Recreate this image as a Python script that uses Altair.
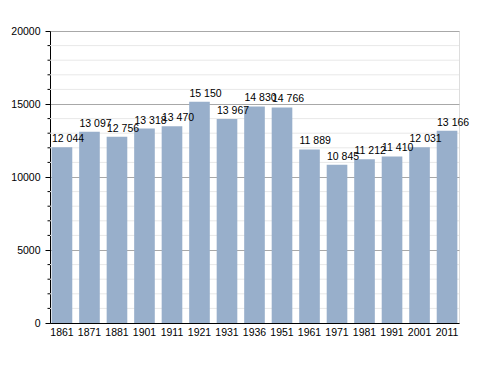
import altair as alt
import pandas as pd

years = ["1861", "1871", "1881", "1901", "1911", "1921", "1931", "1936",
         "1951", "1961", "1971", "1981", "1991", "2001", "2011"]
population = [12044, 13097, 12756, 13318, 13470, 15150, 13967, 14830,
              14766, 11889, 10845, 11212, 11410, 12031, 13166]
major_ticks = [0, 5000, 10000, 15000, 20000]
minor_ticks = [v for v in range(0, 20001, 1000) if v % 5000 != 0]

df = pd.DataFrame({"year": years, "pop": population})
df["label"] = [f"{v:,}".replace(",", " ") for v in population]
minor_df = pd.DataFrame({"v": minor_ticks})

FONT = "Liberation Sans"
FS = 10.5

x = alt.X("year:N", sort=years, title=None,
          scale=alt.Scale(paddingInner=0.25, paddingOuter=0.06),
          axis=alt.Axis(labelAngle=0, ticks=False, domainColor="black",
                        labelFont=FONT, labelFontSize=FS, labelColor="black",
                        labelPadding=4, grid=False))

yscale = alt.Scale(domain=[0, 20000], nice=False)

minor_grid = alt.Chart(minor_df).mark_rule(color="#e8e8e8", strokeWidth=1).encode(
    y=alt.Y("v:Q", scale=yscale, title=None),
)

minor_tick_marks = alt.Chart(minor_df).mark_rule(color="black", strokeWidth=1).encode(
    y=alt.Y("v:Q", scale=yscale, title=None),
    x=alt.value(-2.5), x2=alt.value(0),
)

bars = alt.Chart(df).mark_bar(color="#98afcb").encode(
    x=x,
    y=alt.Y("pop:Q", scale=yscale, title=None,
            axis=alt.Axis(values=major_ticks, orient="left", format="d",
                          tickSize=5, tickColor="black", domainColor="black",
                          labelFont=FONT, labelFontSize=FS, labelColor="black",
                          labelPadding=5, grid=True, gridColor="#a8a8a8",
                          gridWidth=1)),
)

labels = alt.Chart(df).mark_text(
    align="left", baseline="alphabetic", dx=-10, dy=-5,
    font=FONT, fontSize=FS, color="black"
).encode(
    x=alt.X("year:N", sort=years),
    y=alt.Y("pop:Q", scale=yscale),
    text="label:N",
)

chart = alt.layer(minor_grid, bars, minor_tick_marks, labels).properties(
    width=409, height=292,
    autosize=alt.AutoSizeParams(type="none"),
    padding={"left": 42, "top": 23, "right": 20, "bottom": 40},
).configure_view(stroke=None, clip=False).configure(background="white")

chart.save("out.html", embed_options={"renderer": "svg", "actions": False})
